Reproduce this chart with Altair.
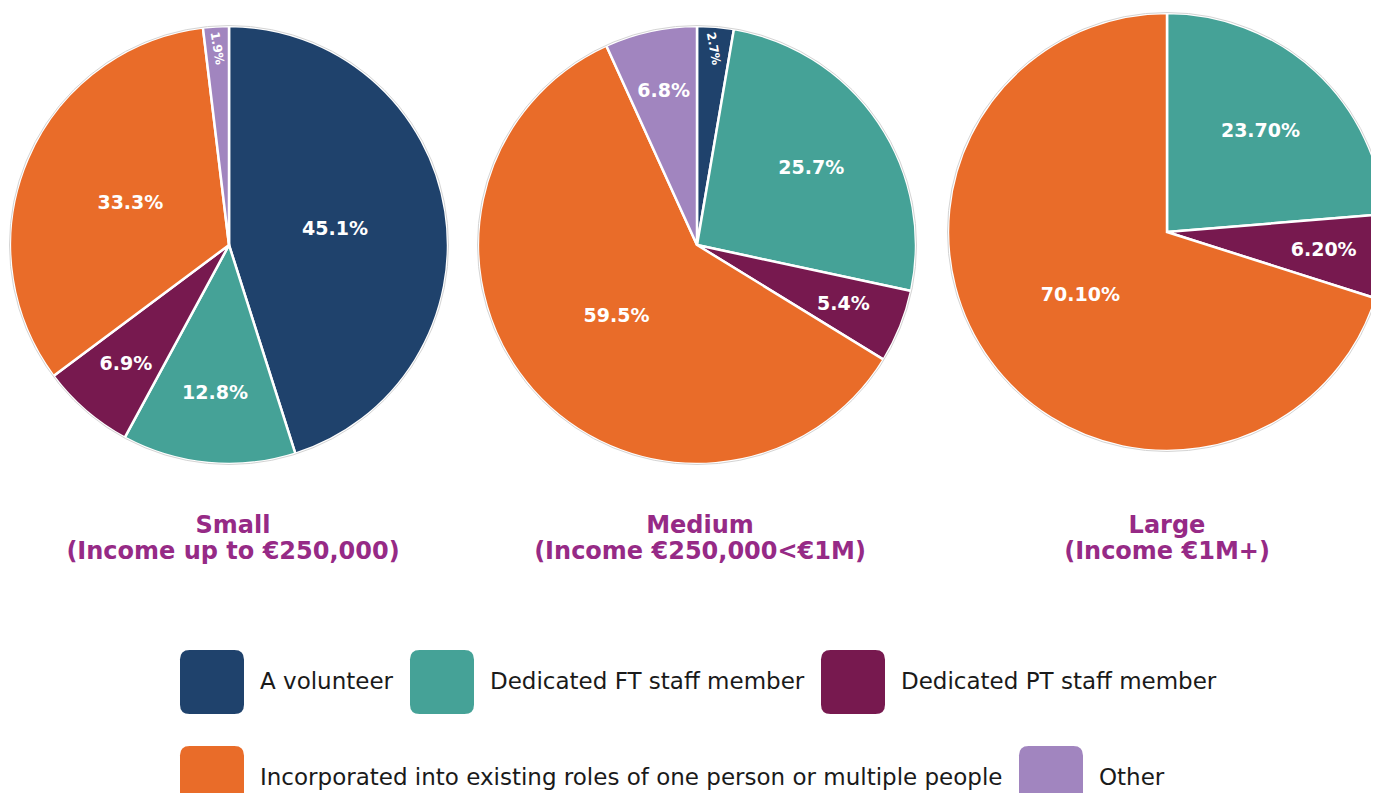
import altair as alt
import pandas as pd

# ---- data ----
categories = ["A volunteer", "Dedicated FT staff member", "Dedicated PT staff member",
              "Incorporated into existing roles of one person or multiple people", "Other"]
colors = ["#1F426C", "#45A297", "#77194F", "#E96C29", "#A185BF"]

sizes = ["Small", "Medium", "Large"]
titles = ["Small\n(Income up to €250,000)", "Medium\n(Income €250,000<€1M)", "Large\n(Income €1M+)"]
small_values = [45.1, 12.8, 6.9, 33.3, 1.9]
medium_values = [2.7, 25.7, 5.4, 59.5, 6.8]
large_values = [0.0, 23.70, 6.20, 70.10, 0.0]
label_decimals = [1, 1, 2]

# ---- layout ----
R = 219
centers = [(221, 237), (689, 237), (1159, 224)]
title_x = [225, 692, 1159]
title_y = 506
PURPLE = "#962A86"
BOLD_FONT = "DejaVu Sans"
LABEL_FONT = "DejaVu Sans"

rounded_square = ("M -0.7,-1 L 0.7,-1 Q 1,-1 1,-0.7 L 1,0.7 Q 1,1 0.7,1 L -0.7,1 "
                  "Q -1,1 -1,0.7 L -1,-0.7 Q -1,-1 -0.7,-1 Z")


def build_df(vals, dec):
    total = sum(vals)
    rows = []
    cum = 0.0
    for c, v in zip(categories, vals):
        start = cum / total
        cum += v
        end = cum / total
        if v < 4:
            r, ang, fs = 0.9 * R, 80, 12
        elif v < 8:
            r, ang, fs = 0.72 * R, 0, 19
        elif v < 20:
            r, ang, fs = 0.68 * R, 0, 19
        elif v < 30:
            r, ang, fs = 0.63 * R, 0, 19
        else:
            r, ang, fs = 0.49 * R, 0, 19
        rows.append(dict(category=c, value=v, start=start, end=end, mid=(start + end) / 2,
                         label=f"{v:.{dec}f}%", r=r, ang=ang, fs=fs))
    df = pd.DataFrame(rows)
    return df[df.value > 0]


theta_scale = alt.Scale(domain=[0, 1], range=[0, 6.283185307179586])


def legend_for(x, y):
    return alt.Legend(
        orient="none", legendX=x, legendY=y, direction="horizontal", title=None,
        symbolType=rounded_square, symbolSize=4096, symbolStrokeWidth=0, symbolOpacity=1,
        labelFont=LABEL_FONT, labelFontSize=23, labelColor="#1a1a1a", labelLimit=1000,
        labelOffset=16, columnPadding=16,
    )


layers = []
for i, (s, vals) in enumerate(zip(sizes, [small_values, medium_values, large_values])):
    df = build_df(vals, label_decimals[i])
    cx, cy = centers[i]
    base = alt.Chart(df)
    arc = base.mark_arc(radius=R, stroke="white", strokeWidth=2.5).encode(
        x=alt.value(cx), y=alt.value(cy),
        theta=alt.Theta("start:Q", scale=theta_scale),
        theta2="end:Q",
        color=alt.Color("category:N", scale=alt.Scale(domain=categories, range=colors),
                        legend=None),
    )
    ring = alt.Chart(pd.DataFrame({"a": [0.0], "b": [1.0]})).mark_arc(
        radius=R + 0.5, fillOpacity=0, stroke="#d4d4d4", strokeWidth=1
    ).encode(
        x=alt.value(cx), y=alt.value(cy),
        theta=alt.Theta("a:Q", scale=theta_scale), theta2="b:Q",
    )
    txt = base.mark_text(font=BOLD_FONT, fontWeight="bold", color="white",
                         align="center", baseline="middle").encode(
        x=alt.value(cx), y=alt.value(cy),
        theta=alt.Theta("mid:Q", scale=theta_scale),
        radius=alt.Radius("r:Q", scale=None),
        angle=alt.Angle("ang:Q", scale=None),
        size=alt.Size("fs:Q", scale=None),
        text="label:N",
    )
    ttl = alt.Chart(pd.DataFrame({"t": [titles[i]]})).mark_text(
        font=BOLD_FONT, fontWeight="bold", color=PURPLE, fontSize=24,
        lineBreak="\n", lineHeight=26, align="center", baseline="top",
    ).encode(x=alt.value(title_x[i]), y=alt.value(title_y), text="t:N")
    layers += [arc, ring, txt, ttl]

# legend rows (first three categories, then the remaining two)
row1 = alt.Chart(pd.DataFrame({"category": categories[:3]})).mark_point(
    filled=True, opacity=0).encode(
    x=alt.value(0), y=alt.value(0),
    color=alt.Color("category:N", scale=alt.Scale(domain=categories[:3], range=colors[:3]),
                    legend=legend_for(172, 642)),
)
row2 = alt.Chart(pd.DataFrame({"category": categories[3:]})).mark_point(
    filled=True, opacity=0).encode(
    x=alt.value(0), y=alt.value(0),
    color=alt.Color("category:N", scale=alt.Scale(domain=categories[3:], range=colors[3:]),
                    legend=legend_for(172, 738)),
)
layers += [row1, row2]

chart = alt.layer(*layers).resolve_scale(color="independent").resolve_legend(
    color="independent"
).properties(
    width=1363, height=785, padding=0,
    autosize=alt.AutoSizeParams(type="none"),
).configure_view(stroke=None)

chart.save("out.html", embed_options={"renderer": "svg", "actions": False})
